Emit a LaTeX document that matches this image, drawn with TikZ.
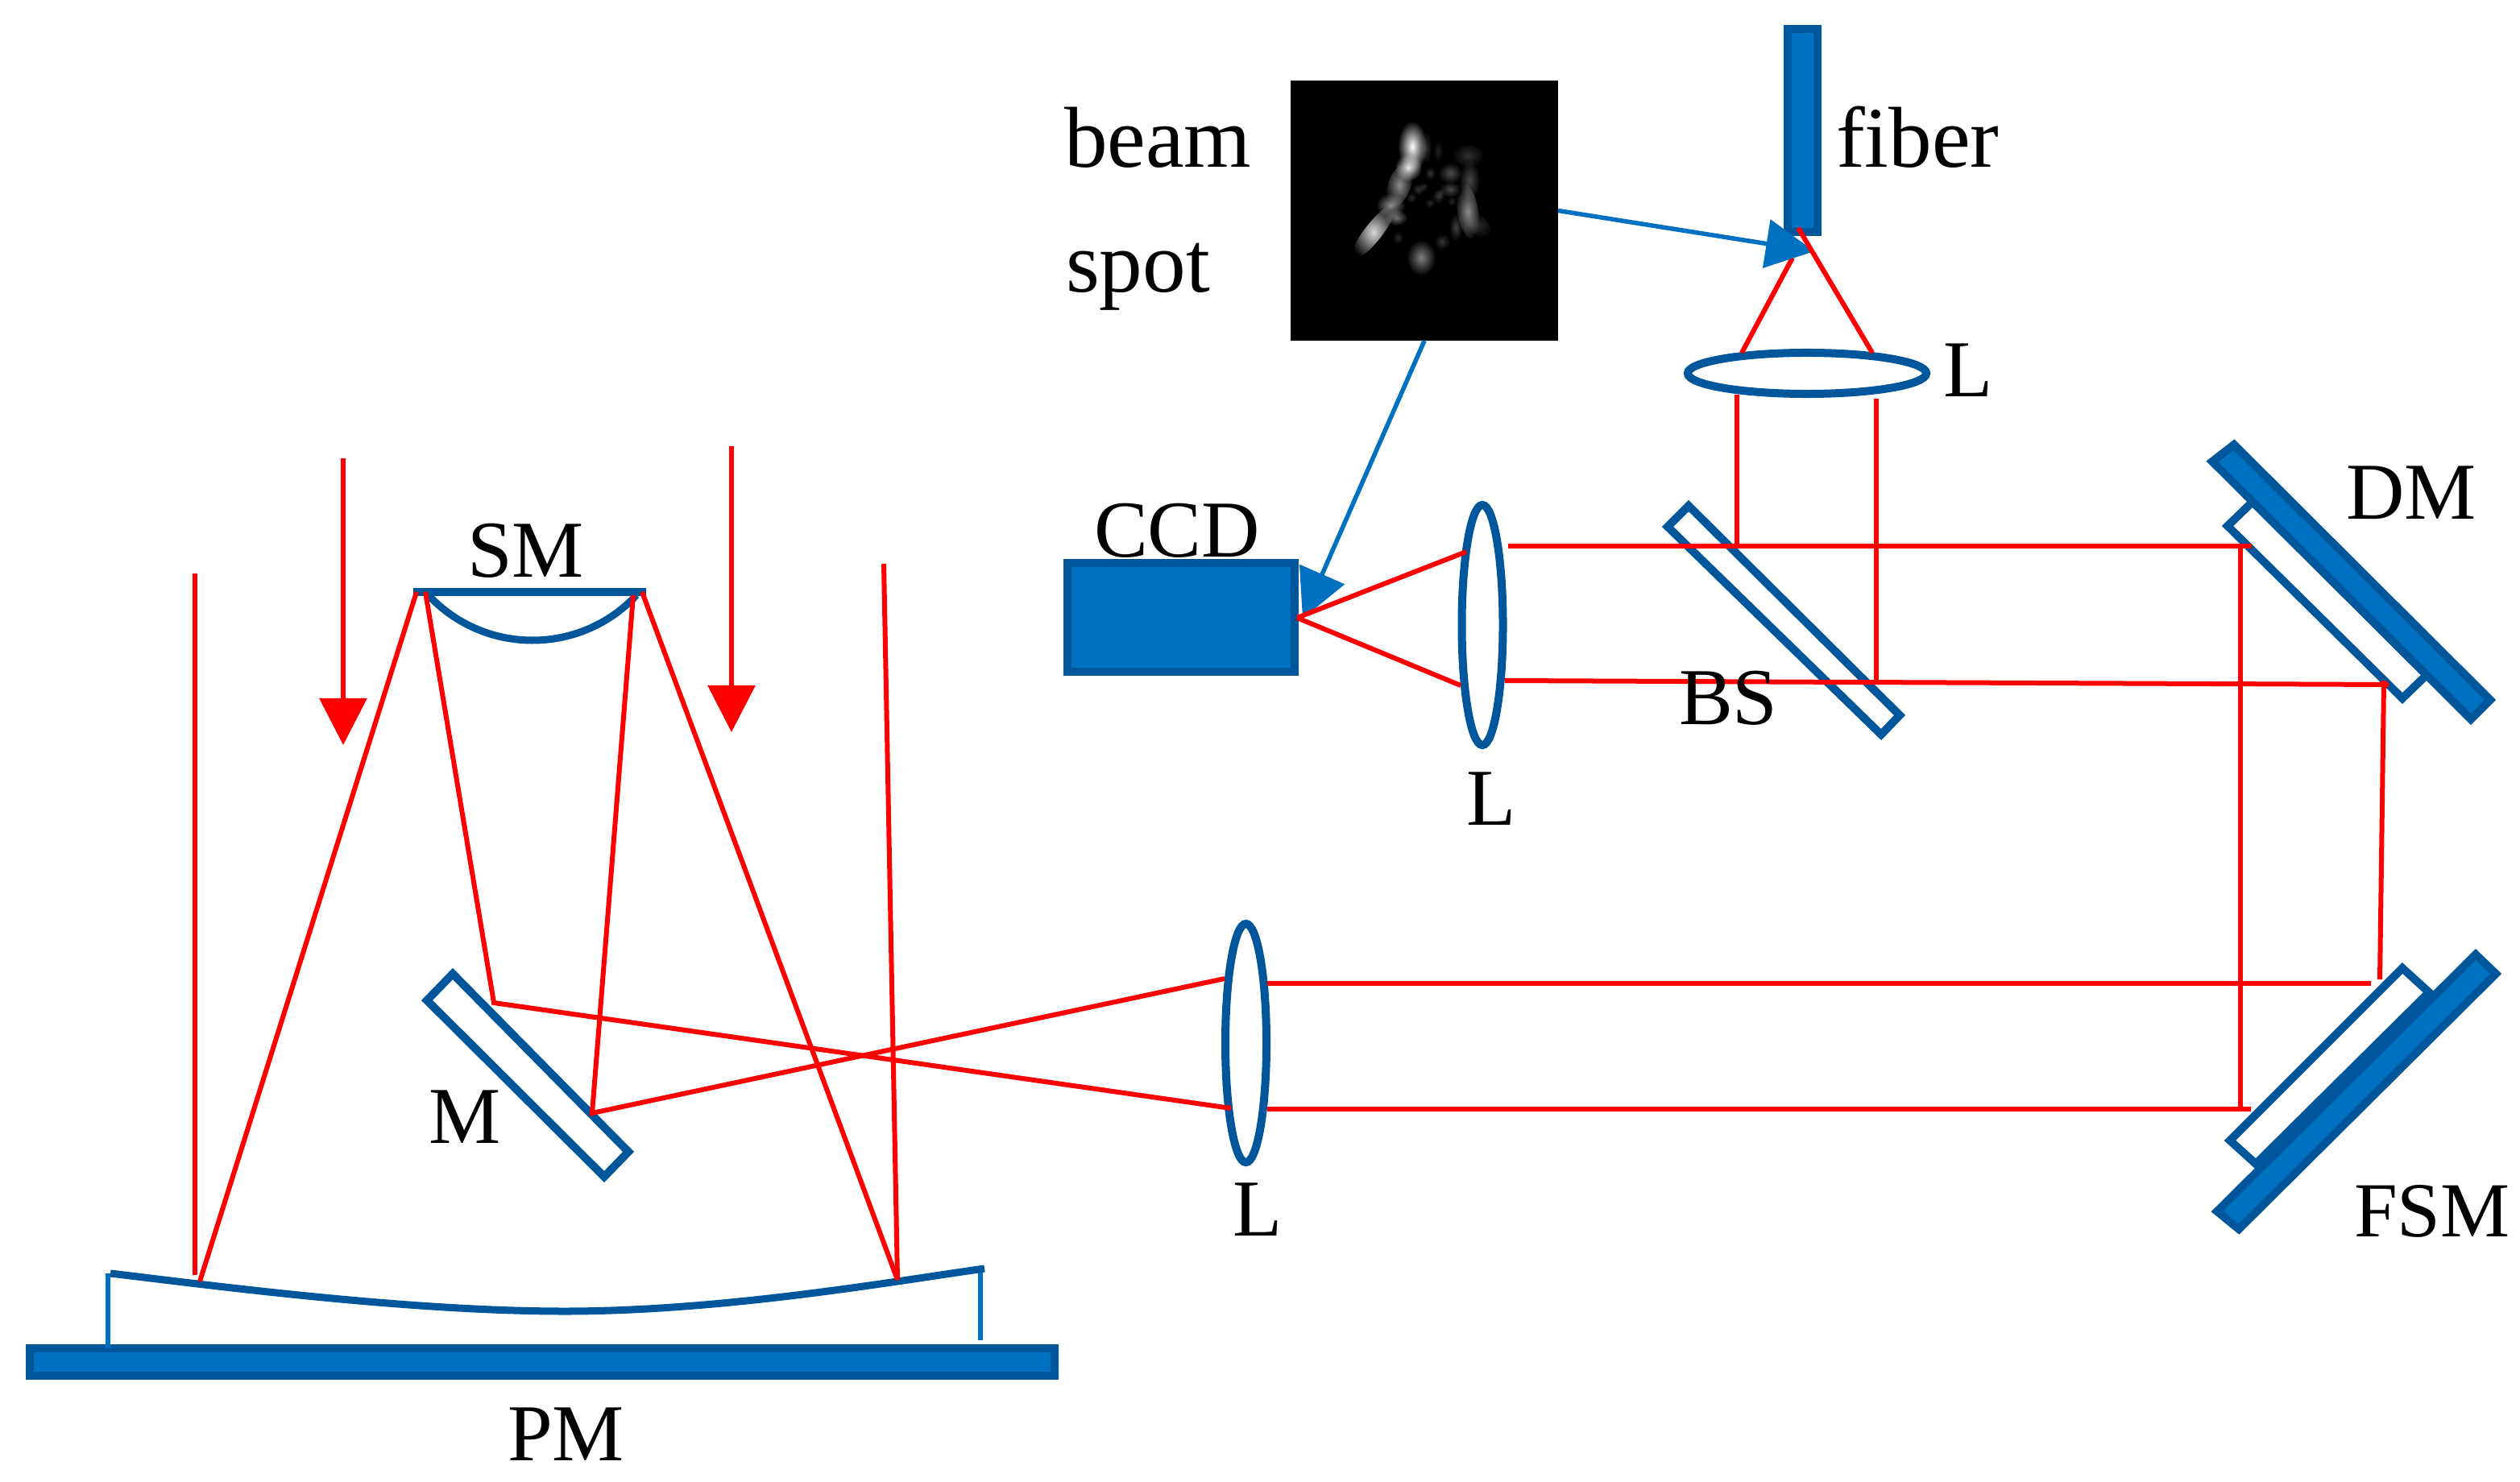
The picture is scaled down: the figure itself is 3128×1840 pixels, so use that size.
\documentclass[tikz,border=0pt]{standalone}
\usepackage{fontspec}
\setmainfont{Liberation Serif}
\usetikzlibrary{shapes.geometric,arrows.meta}
\definecolor{optblue}{HTML}{0070C0}
\definecolor{optdark}{HTML}{00569B}
\tikzstyle{ray} = [red, line width=0.06cm]
\tikzstyle{glass} = [draw=optdark, line width=0.1cm, fill=white]
\tikzstyle{lens} = [ellipse, draw=optdark, line width=0.1cm, inner sep=0pt, outer sep=0pt]
\tikzstyle{solid} = [rectangle, draw=optdark, fill=optblue, line width=0.1cm, inner sep=0pt, outer sep=0pt]
\tikzstyle{txt} = [anchor=base west, inner sep=0pt, outer sep=0pt, font=\fontsize{28.5}{30}\selectfont]
\tikzstyle{low} = [txt, font=\fontsize{30.5}{32}\selectfont]
\tikzstyle{link} = [optblue, line width=0.055cm, -{Triangle[length=0.6cm,width=0.6cm]}]
\tikzstyle{beamin} = [red, line width=0.06cm, -{Triangle[length=0.58cm,width=0.58cm]}]

\begin{document}
\begin{tikzpicture}[x=0.01cm, y=-0.01cm]
  \useasboundingbox (0,0) rectangle (3128,1840);

  % upper bench
  \node (fiber) [solid, minimum width=0.37cm, minimum height=2.52cm] at (2237,162) {};
  \node (ccd) [solid, minimum width=2.81cm, minimum height=1.34cm] at (1466,766.5) {};
  \node (spot) [rectangle, fill=black, inner sep=0pt, outer sep=0pt, minimum width=3.32cm, minimum height=3.23cm] at (1768,261.5) {};
  \node (lensup) [lens, minimum width=2.96cm, minimum height=0.51cm] at (2243,463.5) {};
  \node (lensmid) [lens, minimum width=0.51cm, minimum height=2.98cm] at (1840,776) {};
  \node (lenslow) [lens, minimum width=0.51cm, minimum height=2.96cm] at (1546.5,1295) {};

  % speckles of the beam spot
  \begin{scope}[blend mode=screen]
  \foreach \sx/\sy/\rx/\ry/\rot/\lev in {
    1753/182/18/32/0/100, 1748/208/17/17/0/90, 1737/230/14/28/-20/55, 1726/255/18/15/0/55,
    1705/288/11/42/-38/85, 1733/270/14/10/0/45, 1764/320/18/22/0/50, 1822/262/13/36/10/55,
    1824/224/13/25/0/28, 1800/215/15/13/0/30, 1800/235/13/10/0/28, 1822/193/20/15/0/18,
    1807/282/8/17/0/25, 1790/300/10/10/0/20, 1770/183/7/20/0/18, 1785/188/6/14/0/12,
    1775/215/7/8/0/20, 1760/235/7/7/0/20, 1787/240/7/7/0/18, 1767/232/6/6/0/16,
    1785/245/8/8/0/16, 1775/252/6/6/0/16, 1752/245/7/7/0/16, 1802/250/6/6/0/14,
    1836/280/11/20/40/16, 1735/295/7/8/0/16}
    {\shade[inner color=black!\the\numexpr100-\lev\relax!white, outer color=black, rotate around={\rot:(\sx,\sy)}] (\sx,\sy) ellipse ({\rx} and {\ry});}
  \end{scope}

  \coordinate (fibertip) at (2252,312);
  \coordinate (ccdspot) at (1617,768);
  \draw[ray] (2162,438) -- (2225,320);
  \draw[link] (spot.east) -- (fibertip);
  \draw[link] (spot.south) -- (ccdspot);

  % mirrors on the folded path
  \draw[glass] (2096,628) -- (2070,654) -- (2335,912) -- (2358,888) -- cycle;
  \draw[glass] (2765,653) -- (2796,623) -- (3012,838) -- (2982,867) -- cycle;
  \draw[solid] (2746,573) -- (2773,552) -- (3091,869) -- (3067,893) -- cycle;
  \draw[glass] (2768,1416) -- (2982,1202) -- (3015,1232) -- (2800,1445) -- cycle;
  \draw[solid] (2752,1504) -- (2779,1526) -- (3098,1209) -- (3073,1185) -- cycle;

  % telescope
  \node (base) [solid, minimum width=12.72cm, minimum height=0.34cm] at (673,1691) {};
  \draw[optblue, line width=0.06cm] (134,1581) -- (134,1674);
  \draw[optblue, line width=0.06cm] (1217,1576) -- (1217,1664);
  \draw[optdark, line width=0.09cm] (137,1581) .. controls (248,1594) and (500,1628) .. (701,1628) .. controls (900,1628) and (1114,1590) .. (1222,1575);
  \draw[optdark, line width=0.09cm] (513,735) -- (802,735);
  \draw[optdark, line width=0.09cm] (530,737) .. controls (600,814) and (720,814) .. (790,739);
  \draw[glass] (562,1209) -- (530,1242) -- (750,1461) -- (780,1430) -- cycle;

  % rays
  \draw[ray] (2232,283) -- (2324,438);
  \draw[ray] (2156,490) -- (2156,678);
  \draw[ray] (2329,495) -- (2329,850);
  \draw[ray] (1872,678) -- (2795,678);
  \draw[ray] (1868,845) -- (2965,850);
  \draw[ray] (2959,845) -- (2954,1216);
  \draw[ray] (2781,678) -- (2781,1377);
  \draw[ray] (1573,1221) -- (2943,1221);
  \draw[ray] (1573,1377) -- (2794,1377);
  \draw[ray] (1610,767) -- (1820,685);
  \draw[ray] (1610,767) -- (1813,851);
  \draw[ray] (242,712) -- (242,1583);
  \draw[ray] (1097,700) -- (1114,1589);
  \draw[ray] (517,735) -- (248,1591);
  \draw[ray] (797,735) -- (1114,1589);
  \draw[ray] (528,735) -- (613,1245) -- (1528,1376);
  \draw[ray] (786,739) -- (735,1382) -- (1520,1215);
  \draw[beamin] (426,569) -- (426,925);
  \draw[beamin] (908,554) -- (908,909);

  % labels
  \node (lbeam) [low] at (1321,208) {beam};
  \node (lspot) [low] at (1323,363) {spot};
  \node (lfiber) [low] at (2279,208) {fiber};
  \node (lup) [txt] at (2412,493) {L};
  \node (lccd) [txt] at (1358,692) {CCD};
  \node (lbs) [txt] at (2084,899) {BS};
  \node (lmid) [txt] at (1820,1024) {L};
  \node (ldm) [txt] at (2912,645) {DM};
  \node (lfsm) [txt, font=\fontsize{27.5}{30}\selectfont] at (2922,1535) {FSM};
  \node (lsm) [txt] at (580,716) {SM};
  \node (lm) [txt] at (532,1419) {M};
  \node (lpm) [txt] at (630,1813) {PM};
  \node (llow) [txt] at (1530,1534) {L};
\end{tikzpicture}
\end{document}
